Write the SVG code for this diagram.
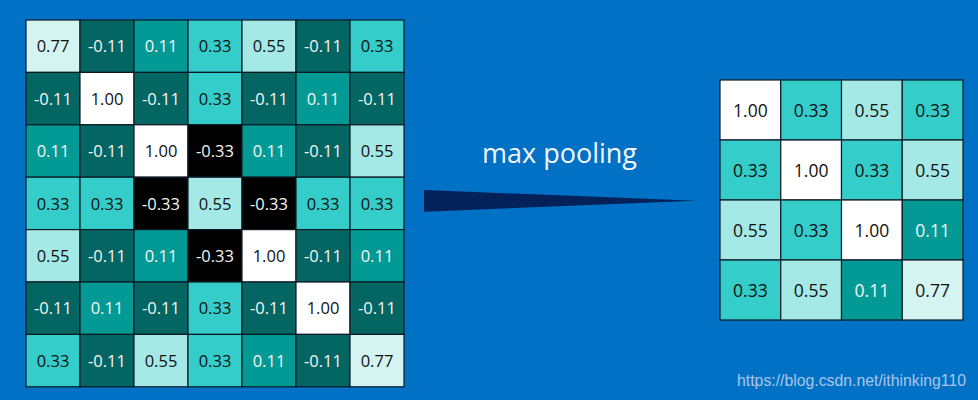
<svg xmlns="http://www.w3.org/2000/svg" width="978" height="400" viewBox="0 0 978 400">
<style>
rect.c{stroke:#0d1a26;stroke-width:1.2}
.n77{fill:#d4f4f2}.m11{fill:#046662}.p11{fill:#039a96}.p33{fill:#35cdca}.p55{fill:#a5e9e6}.one{fill:#ffffff}.m33{fill:#000000}
text{font-family:"Open Sans","Noto Sans","DejaVu Sans",sans-serif;text-anchor:middle}
text.v{font-size:16.5px}
text.r{font-size:17.5px}
.d{fill:#111111}.w{fill:#f4f4f4}
</style>
<rect x="0" y="0" width="978" height="400" fill="#0171c6"/>
<g id="left-grid">
<g id="L00"><rect class="c n77" x="26" y="20" width="54" height="52.4"/><text class="v d" x="53" y="52.3">0.77</text></g>
<g id="L01"><rect class="c m11" x="80" y="20" width="54" height="52.4"/><text class="v w" x="107" y="52.3">-0.11</text></g>
<g id="L02"><rect class="c p11" x="134" y="20" width="54" height="52.4"/><text class="v w" x="161" y="52.3">0.11</text></g>
<g id="L03"><rect class="c p33" x="188" y="20" width="54" height="52.4"/><text class="v d" x="215" y="52.3">0.33</text></g>
<g id="L04"><rect class="c p55" x="242" y="20" width="54" height="52.4"/><text class="v d" x="269" y="52.3">0.55</text></g>
<g id="L05"><rect class="c m11" x="296" y="20" width="54" height="52.4"/><text class="v w" x="323" y="52.3">-0.11</text></g>
<g id="L06"><rect class="c p33" x="350" y="20" width="54" height="52.4"/><text class="v d" x="377" y="52.3">0.33</text></g>

<g id="L10"><rect class="c m11" x="26" y="72.4" width="54" height="52.4"/><text class="v w" x="53" y="104.7">-0.11</text></g>
<g id="L11"><rect class="c one" x="80" y="72.4" width="54" height="52.4"/><text class="v d" x="107" y="104.7">1.00</text></g>
<g id="L12"><rect class="c m11" x="134" y="72.4" width="54" height="52.4"/><text class="v w" x="161" y="104.7">-0.11</text></g>
<g id="L13"><rect class="c p33" x="188" y="72.4" width="54" height="52.4"/><text class="v d" x="215" y="104.7">0.33</text></g>
<g id="L14"><rect class="c m11" x="242" y="72.4" width="54" height="52.4"/><text class="v w" x="269" y="104.7">-0.11</text></g>
<g id="L15"><rect class="c p11" x="296" y="72.4" width="54" height="52.4"/><text class="v w" x="323" y="104.7">0.11</text></g>
<g id="L16"><rect class="c m11" x="350" y="72.4" width="54" height="52.4"/><text class="v w" x="377" y="104.7">-0.11</text></g>

<g id="L20"><rect class="c p11" x="26" y="124.8" width="54" height="52.4"/><text class="v w" x="53" y="157.1">0.11</text></g>
<g id="L21"><rect class="c m11" x="80" y="124.8" width="54" height="52.4"/><text class="v w" x="107" y="157.1">-0.11</text></g>
<g id="L22"><rect class="c one" x="134" y="124.8" width="54" height="52.4"/><text class="v d" x="161" y="157.1">1.00</text></g>
<g id="L23"><rect class="c m33" x="188" y="124.8" width="54" height="52.4"/><text class="v w" x="215" y="157.1">-0.33</text></g>
<g id="L24"><rect class="c p11" x="242" y="124.8" width="54" height="52.4"/><text class="v w" x="269" y="157.1">0.11</text></g>
<g id="L25"><rect class="c m11" x="296" y="124.8" width="54" height="52.4"/><text class="v w" x="323" y="157.1">-0.11</text></g>
<g id="L26"><rect class="c p55" x="350" y="124.8" width="54" height="52.4"/><text class="v d" x="377" y="157.1">0.55</text></g>

<g id="L30"><rect class="c p33" x="26" y="177.2" width="54" height="52.4"/><text class="v d" x="53" y="209.5">0.33</text></g>
<g id="L31"><rect class="c p33" x="80" y="177.2" width="54" height="52.4"/><text class="v d" x="107" y="209.5">0.33</text></g>
<g id="L32"><rect class="c m33" x="134" y="177.2" width="54" height="52.4"/><text class="v w" x="161" y="209.5">-0.33</text></g>
<g id="L33"><rect class="c p55" x="188" y="177.2" width="54" height="52.4"/><text class="v d" x="215" y="209.5">0.55</text></g>
<g id="L34"><rect class="c m33" x="242" y="177.2" width="54" height="52.4"/><text class="v w" x="269" y="209.5">-0.33</text></g>
<g id="L35"><rect class="c p33" x="296" y="177.2" width="54" height="52.4"/><text class="v d" x="323" y="209.5">0.33</text></g>
<g id="L36"><rect class="c p33" x="350" y="177.2" width="54" height="52.4"/><text class="v d" x="377" y="209.5">0.33</text></g>

<g id="L40"><rect class="c p55" x="26" y="229.6" width="54" height="52.4"/><text class="v d" x="53" y="261.9">0.55</text></g>
<g id="L41"><rect class="c m11" x="80" y="229.6" width="54" height="52.4"/><text class="v w" x="107" y="261.9">-0.11</text></g>
<g id="L42"><rect class="c p11" x="134" y="229.6" width="54" height="52.4"/><text class="v w" x="161" y="261.9">0.11</text></g>
<g id="L43"><rect class="c m33" x="188" y="229.6" width="54" height="52.4"/><text class="v w" x="215" y="261.9">-0.33</text></g>
<g id="L44"><rect class="c one" x="242" y="229.6" width="54" height="52.4"/><text class="v d" x="269" y="261.9">1.00</text></g>
<g id="L45"><rect class="c m11" x="296" y="229.6" width="54" height="52.4"/><text class="v w" x="323" y="261.9">-0.11</text></g>
<g id="L46"><rect class="c p11" x="350" y="229.6" width="54" height="52.4"/><text class="v w" x="377" y="261.9">0.11</text></g>

<g id="L50"><rect class="c m11" x="26" y="282" width="54" height="52.4"/><text class="v w" x="53" y="314.3">-0.11</text></g>
<g id="L51"><rect class="c p11" x="80" y="282" width="54" height="52.4"/><text class="v w" x="107" y="314.3">0.11</text></g>
<g id="L52"><rect class="c m11" x="134" y="282" width="54" height="52.4"/><text class="v w" x="161" y="314.3">-0.11</text></g>
<g id="L53"><rect class="c p33" x="188" y="282" width="54" height="52.4"/><text class="v d" x="215" y="314.3">0.33</text></g>
<g id="L54"><rect class="c m11" x="242" y="282" width="54" height="52.4"/><text class="v w" x="269" y="314.3">-0.11</text></g>
<g id="L55"><rect class="c one" x="296" y="282" width="54" height="52.4"/><text class="v d" x="323" y="314.3">1.00</text></g>
<g id="L56"><rect class="c m11" x="350" y="282" width="54" height="52.4"/><text class="v w" x="377" y="314.3">-0.11</text></g>

<g id="L60"><rect class="c p33" x="26" y="334.4" width="54" height="52.4"/><text class="v d" x="53" y="366.7">0.33</text></g>
<g id="L61"><rect class="c m11" x="80" y="334.4" width="54" height="52.4"/><text class="v w" x="107" y="366.7">-0.11</text></g>
<g id="L62"><rect class="c p55" x="134" y="334.4" width="54" height="52.4"/><text class="v d" x="161" y="366.7">0.55</text></g>
<g id="L63"><rect class="c p33" x="188" y="334.4" width="54" height="52.4"/><text class="v d" x="215" y="366.7">0.33</text></g>
<g id="L64"><rect class="c p11" x="242" y="334.4" width="54" height="52.4"/><text class="v w" x="269" y="366.7">0.11</text></g>
<g id="L65"><rect class="c m11" x="296" y="334.4" width="54" height="52.4"/><text class="v w" x="323" y="366.7">-0.11</text></g>
<g id="L66"><rect class="c n77" x="350" y="334.4" width="54" height="52.4"/><text class="v d" x="377" y="366.7">0.77</text></g>
</g>

<g id="right-grid">
<g id="R00"><rect class="c one" x="720" y="80" width="60.75" height="60"/><text class="r d" x="750.4" y="116.5">1.00</text></g>
<g id="R01"><rect class="c p33" x="780.75" y="80" width="60.75" height="60"/><text class="r d" x="811.1" y="116.5">0.33</text></g>
<g id="R02"><rect class="c p55" x="841.5" y="80" width="60.75" height="60"/><text class="r d" x="871.9" y="116.5">0.55</text></g>
<g id="R03"><rect class="c p33" x="902.25" y="80" width="60.75" height="60"/><text class="r d" x="932.6" y="116.5">0.33</text></g>

<g id="R10"><rect class="c p33" x="720" y="140" width="60.75" height="60"/><text class="r d" x="750.4" y="176.5">0.33</text></g>
<g id="R11"><rect class="c one" x="780.75" y="140" width="60.75" height="60"/><text class="r d" x="811.1" y="176.5">1.00</text></g>
<g id="R12"><rect class="c p33" x="841.5" y="140" width="60.75" height="60"/><text class="r d" x="871.9" y="176.5">0.33</text></g>
<g id="R13"><rect class="c p55" x="902.25" y="140" width="60.75" height="60"/><text class="r d" x="932.6" y="176.5">0.55</text></g>

<g id="R20"><rect class="c p55" x="720" y="200" width="60.75" height="60"/><text class="r d" x="750.4" y="236.5">0.55</text></g>
<g id="R21"><rect class="c p33" x="780.75" y="200" width="60.75" height="60"/><text class="r d" x="811.1" y="236.5">0.33</text></g>
<g id="R22"><rect class="c one" x="841.5" y="200" width="60.75" height="60"/><text class="r d" x="871.9" y="236.5">1.00</text></g>
<g id="R23"><rect class="c p11" x="902.25" y="200" width="60.75" height="60"/><text class="r w" x="932.6" y="236.5">0.11</text></g>

<g id="R30"><rect class="c p33" x="720" y="260" width="60.75" height="60"/><text class="r d" x="750.4" y="296.5">0.33</text></g>
<g id="R31"><rect class="c p55" x="780.75" y="260" width="60.75" height="60"/><text class="r d" x="811.1" y="296.5">0.55</text></g>
<g id="R32"><rect class="c p11" x="841.5" y="260" width="60.75" height="60"/><text class="r w" x="871.9" y="296.5">0.11</text></g>
<g id="R33"><rect class="c n77" x="902.25" y="260" width="60.75" height="60"/><text class="r d" x="932.6" y="296.5">0.77</text></g>
</g>

<g id="connectors">
<polygon points="424,190 696,200.7 424,211.7" fill="#04215a"/>
</g>
<text x="559.5" y="163" font-size="27" fill="#f2f6fa" style="font-family:'Open Sans','Noto Sans',sans-serif">max pooling</text>
<text x="851.5" y="386" font-size="15.8" fill="#a9c6e6" style="font-family:'Liberation Sans',Arial,sans-serif">https://blog.csdn.net/ithinking110</text>
</svg>
